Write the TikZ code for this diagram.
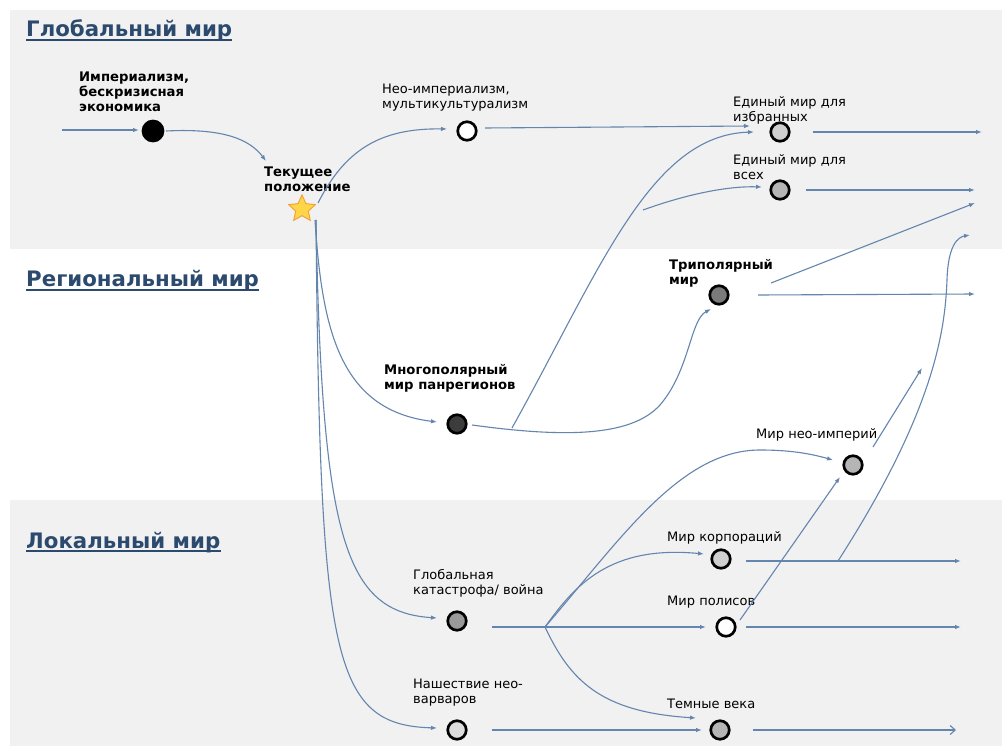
\documentclass[tikz,border=0pt]{standalone}
\usepackage{fontspec}
\setmainfont{DejaVu Sans}
\usetikzlibrary{shapes.geometric,arrows.meta,calc}
\definecolor{band}{HTML}{F1F1F1}
\definecolor{ln}{HTML}{6485AE}
\definecolor{hdr}{HTML}{2C4A6E}
\definecolor{starY}{HTML}{FFD54A}
\definecolor{starO}{HTML}{F2A33A}
\definecolor{g0}{HTML}{DCDCDC}
\definecolor{g1}{HTML}{CFCFCF}
\definecolor{g2}{HTML}{B5B5B5}
\definecolor{g3}{HTML}{7A7A7A}
\definecolor{g4}{HTML}{3C3C3C}
\tikzset{
  conn/.style={draw=ln, line width=1.1pt, -{Latex[length=6pt,width=4.5pt]}},
  openconn/.style={draw=ln, line width=1.1pt, -{Straight Barb[length=5pt,width=9pt]}},
  dot/.style={circle, draw=black, line width=2.7pt, minimum size=18.5pt, inner sep=0pt},
  lbl/.style={anchor=north west, align=left, inner sep=0pt, font=\fontsize{13}{15}\selectfont},
  blbl/.style={anchor=north west, align=left, inner sep=0pt, font=\fontsize{13.2}{14.8}\selectfont\bfseries},
  hdrs/.style={anchor=base west, inner sep=0pt, text=hdr, font=\fontsize{21.3}{24}\selectfont\bfseries},
  uline/.style={draw=hdr, line width=1.5pt},
}
\begin{document}
\begin{tikzpicture}[x=1pt,y=-1pt]
\useasboundingbox (0,0) rectangle (1002,746);
\fill[white] (0,0) rectangle (1002,746);
\fill[band] (10,10) rectangle (1002,249);
\fill[band] (10,500) rectangle (1002,746);

% headers
\node[hdrs] (h1) at (26,37) {Глобальный мир};
\node[hdrs] (h2) at (26,287) {Региональный мир};
\node[hdrs] (h3) at (26,548) {Локальный мир};
\draw[uline] ($(h1.base west)+(0,3)$) -- ($(h1.base east)+(0,3)$);
\draw[uline] ($(h2.base west)+(0,3)$) -- ($(h2.base east)+(0,3)$);
\draw[uline] ($(h3.base west)+(0,3)$) -- ($(h3.base east)+(0,3)$);

% nodes
\node[dot, fill=black, minimum size=20pt] (imp) at (153,131) {};
\node[star, star points=5, star point ratio=2.1, minimum size=28pt, inner sep=0pt,
      fill=starY, draw=starO, line width=1pt] (cur) at (302,209) {};
\node[dot, fill=white] (neo) at (467,131) {};
\node[dot, fill=g1] (izb) at (780,132) {};
\node[dot, fill=g2] (vse) at (780,190) {};
\node[dot, fill=g3] (tri) at (719,295) {};
\node[dot, fill=g4] (multi) at (457,424) {};
\node[dot, fill=g2] (emp) at (853,465) {};
\node[dot, fill=g1] (korp) at (721,559) {};
\node[dot, fill=white] (polis) at (726,627) {};
\node[dot, fill=g2!85!black] (kat) at (457,621) {};
\node[dot, fill=g2] (temn) at (720,730) {};
\node[dot, fill=g0] (barb) at (457,730) {};

% labels
\node[blbl] (impL) at (79,72) {Империализм,\\бескризисная\\экономика};
\node[blbl] (curL) at (264,167) {Текущее\\положение};
\node[lbl] (neoL) at (382,84) {Нео-империализм,\\мультикультурализм};
\node[lbl] (izbL) at (733,96) {Единый мир для\\избранных};
\node[lbl] (vseL) at (733,154) {Единый мир для\\всех};
\node[blbl] (triL) at (669,259) {Триполярный\\мир};
\node[blbl] (multiL) at (384,364) {Многополярный\\мир панрегионов};
\node[lbl] (empL) at (756,428) {Мир нео-империй};
\node[lbl] (korpL) at (667,531) {Мир корпораций};
\node[lbl] (polisL) at (667,596) {Мир полисов};
\node[lbl] (katL) at (413,569) {Глобальная\\катастрофа/ война};
\node[lbl] (barbL) at (413,679) {Нашествие нео-\\варваров};
\node[lbl] (temnL) at (667,699) {Темные века};

% free ends and branch points
\coordinate (in0) at (62,130);
\coordinate (o1) at (982,132);
\coordinate (o2) at (975,190);
\coordinate (o3) at (975,203);
\coordinate (o4) at (970,235);
\coordinate (o5) at (975,294);
\coordinate (o6) at (922,368);
\coordinate (o7) at (961,561);
\coordinate (o8) at (961,627);
\coordinate (o9) at (956,730);
\coordinate (bm) at (512,428);
\coordinate (bv) at (643,210);
\coordinate (bk) at (545,627);
\coordinate (bc) at (838,561);

% connectors
\draw[conn] (in0) -- ($(imp)+(-14,-1)$);
\draw[conn] ($(imp)+(13,0)$) .. controls (225,128) and (250,140) .. ($(curL.north west)+(2,-6)$);
\draw[conn] ($(cur)+(16,-6)$) .. controls (345,150) and (380,128) .. ($(neo)+(-20,-2)$);
\draw[conn] ($(neo)+(18,-3)$) -- ($(izb)+(-30,-6)$);
\draw[conn] ($(multi)+(15,1)$) .. controls (560,437) and (630,438) .. (660,405)
            .. controls (690,370) and (690,320) .. ($(tri)+(-8,14)$);
\draw[conn] (bm) .. controls (600,270) and (650,135) .. ($(izb)+(-26,0)$);
\draw[conn] (bv) .. controls (690,193) and (730,186) .. ($(vse)+(-18,-3)$);
\draw[conn] ($(izb)+(33,0)$) -- (o1);
\draw[conn] ($(vse)+(26,0)$) -- (o2);
\draw[conn] ($(tri)+(39,0)$) -- (o5);
\draw[conn] ($(tri)+(52,-12)$) -- (o3);
\draw[conn] ($(cur)+(13,11)$) .. controls (322,330) and (340,410) .. ($(multi)+(-20,-2)$);
\draw[conn] ($(cur)+(14,11)$) .. controls (322,540) and (345,612) .. ($(kat)+(-20,-3)$);
\draw[conn] ($(cur)+(14,11)$) .. controls (320,660) and (332,725) .. ($(barb)+(-20,-2)$);
\draw[conn] ($(kat)+(35,6)$) -- ($(polis)+(-20,0)$);
\draw[conn] (bk) .. controls (575,585) and (610,545) .. ($(korp)+(-17,-5)$);
\draw[conn] (bk) .. controls (620,540) and (680,450) .. (760,450)
            .. controls (795,450) and (815,455) .. ($(emp)+(-20,-5)$);
\draw[conn] (bk) .. controls (570,680) and (600,712) .. ($(temn)+(-24,-12)$);
\draw[conn] ($(barb)+(35,0)$) -- ($(temn)+(-18,0)$);
\draw[conn] ($(korp)+(25,2)$) -- (o7);
\draw[conn] ($(polis)+(20,0)$) -- (o8);
\draw[openconn] ($(temn)+(33,0)$) -- (o9);
\draw[conn] ($(polis)+(14,-7)$) -- ($(emp)+(-13,12)$);
\draw[conn] ($(emp)+(20,-18)$) -- (o6);
\draw[conn] (bc) .. controls (935,410) and (945,330) .. (947,280)
            .. controls (948,245) and (958,237) .. (o4);
\end{tikzpicture}
\end{document}
